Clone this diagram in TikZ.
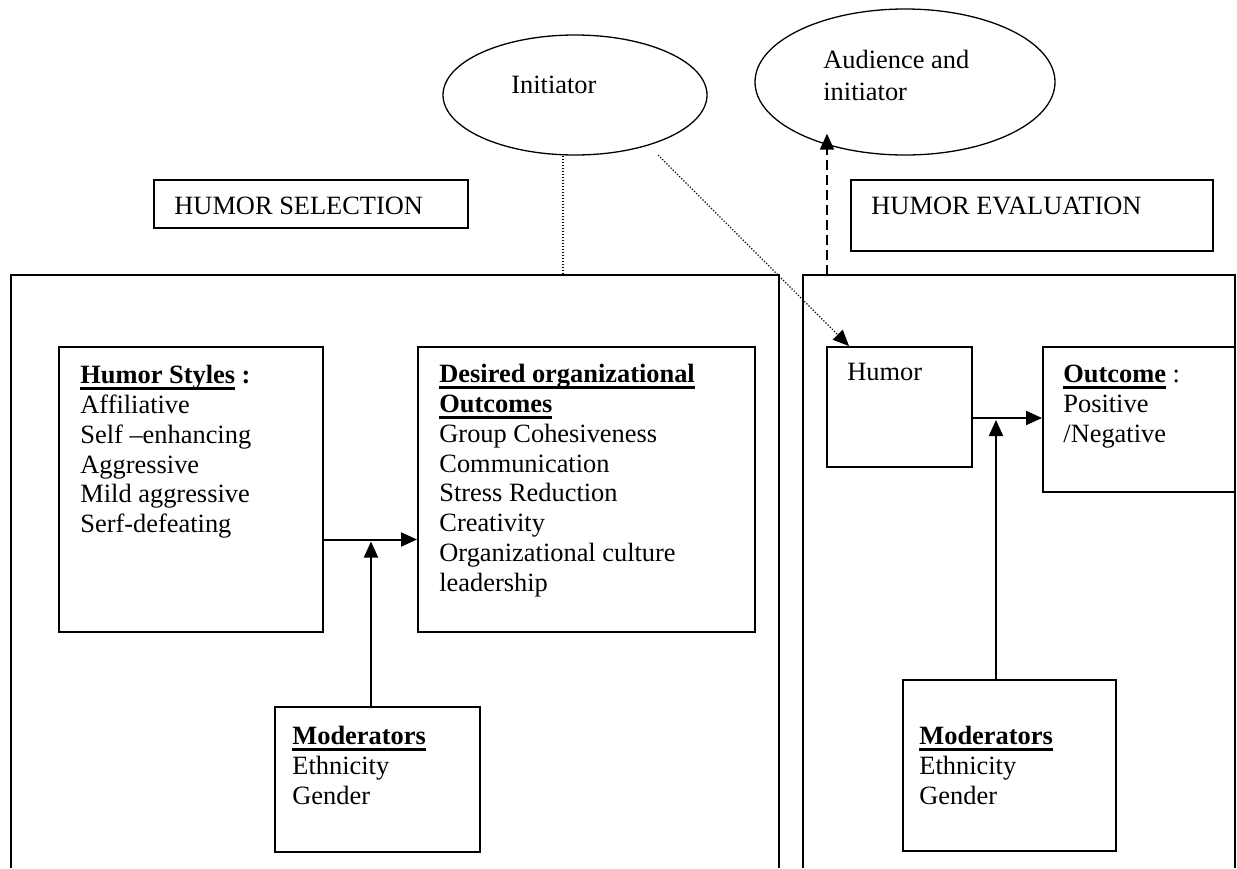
\documentclass[tikz,border=0pt]{standalone}
\usepackage{fontspec}
\setmainfont{Liberation Serif}
\usetikzlibrary{arrows.meta,shapes.geometric}
\newlength{\hdwd}
\newcommand{\hd}[1]{\settowidth{\hdwd}{\textbf{#1}}\textbf{#1}\hspace{-\hdwd}\rule[-3pt]{\hdwd}{1.2pt}}

\begin{document}
\begin{tikzpicture}[x=0.5pt,y=-0.5pt,
    box/.style={draw, line width=1pt, inner sep=0pt},
    oval/.style={draw, ellipse, line width=0.65pt, inner sep=0pt},
    txt/.style={anchor=north west, align=left, inner sep=0pt,
        font=\fontsize{13.2}{14.9}\selectfont},
    arr/.style={line width=1pt, -{Triangle[length=8pt,width=7pt]}},
    dotline/.style={line width=0.6pt, dash pattern=on 0.6pt off 0.9pt},
    dasharr/.style={line width=0.75pt, dash pattern=on 5pt off 2.5pt,
        -{Triangle[length=8pt,width=7pt]}}]
    \useasboundingbox (0,0) rectangle (1237,868);

    %ellipses on top
    \node[oval, minimum width=132pt, minimum height=60pt] (init) at (575,95) {};
    \node[txt] (inittxt) at ([shift={(-64,-19.5)}]init.center) {Initiator};
    \node[oval, minimum width=150pt, minimum height=73pt] (aud) at (905,82) {};
    \node[txt, font=\fontsize{13.2}{16}\selectfont] (audtxt)
        at ([shift={(-82,-32)}]aud.center) {Audience and\\initiator};

    %title boxes
    \node[box, minimum width=157pt, minimum height=24pt] (selbox) at (311,204) {};
    \node[txt] (seltxt) at ([shift={(21,17.5)}]selbox.north west) {HUMOR SELECTION};
    \node[box, minimum width=181pt, minimum height=35.5pt] (evalbox) at (1032,215.5) {};
    \node[txt] (evaltxt) at ([shift={(21,17.5)}]evalbox.north west) {HUMOR EVALUATION};

    %frames, open at the bottom
    \draw[line width=1pt] (11,868) -- (11,275) -- (779,275) -- (779,868);
    \draw[line width=1pt] (803,868) -- (803,275) -- (1235,275) -- (1235,868);
    \coordinate (seltop) at (563,275);
    \coordinate (evaltop) at (827,275);

    % selection side
    \node[box, minimum width=132pt, minimum height=142.5pt] (styles) at (191,489.5) {};
    \node[txt] (stylestxt) at ([shift={(22,19)}]styles.north west)
        {\hd{Humor Styles} \textbf{:}\\Affiliative\\Self --enhancing\\Aggressive\\Mild aggressive\\Serf-defeating};
    \node[box, minimum width=168.5pt, minimum height=142.5pt] (desired) at (586.5,489.5) {};
    \node[txt] (desiredtxt) at ([shift={(22,18)}]desired.north west)
        {\hd{Desired organizational}\\\hd{Outcomes}\\Group Cohesiveness\\Communication\\Stress Reduction\\Creativity\\Organizational culture\\leadership};
    \node[box, minimum width=102.5pt, minimum height=72.5pt] (modl) at (377.5,779.5) {};
    \node[txt] (modltxt) at ([shift={(18,20)}]modl.north west) {\hd{Moderators}\\Ethnicity\\Gender};

    % evaluation side
    \node[box, minimum width=72.5pt, minimum height=60pt] (humor) at (899.5,407) {};
    \node[txt] (humortxt) at ([shift={(21,17)}]humor.north west) {Humor};
    \node[box, minimum width=96pt, minimum height=72.5pt] (outcome) at (1139,419.5) {};
    \node[txt] (outcometxt) at ([shift={(21,19)}]outcome.north west) {\hd{Outcome} :\\Positive\\/Negative};
    \node[box, minimum width=106.5pt, minimum height=85.5pt] (modr) at (1009.5,765.5) {};
    \node[txt] (modrtxt) at ([shift={(17,47)}]modr.north west) {\hd{Moderators}\\Ethnicity\\Gender};

    %arrows
    \coordinate (joinA) at (371,539.5);
    \coordinate (joinB) at (996,418);
    \draw[arr] (styles.east |- joinA) -- (desired.west |- joinA);
    \draw[arr] (joinA |- modl.north) -- ([yshift=-1pt]joinA);
    \draw[arr] (humor.east |- joinB) -- (outcome.west |- joinB);
    \draw[arr] (joinB |- modr.north) -- ([yshift=-1pt]joinB);

    %dotted links from initiator
    \draw[dotline] (seltop |- init.south) -- (seltop);
    \draw[dotline, -{Triangle[length=8pt,width=7pt]}] ([shift={(83,60)}]init.center)
        -- ([shift={(23,0)}]humor.north west);

    %dashed link to audience
    \draw[dasharr, shorten >=-11pt] (evaltop) -- (evaltop |- aud.south);
\end{tikzpicture}
\end{document}
